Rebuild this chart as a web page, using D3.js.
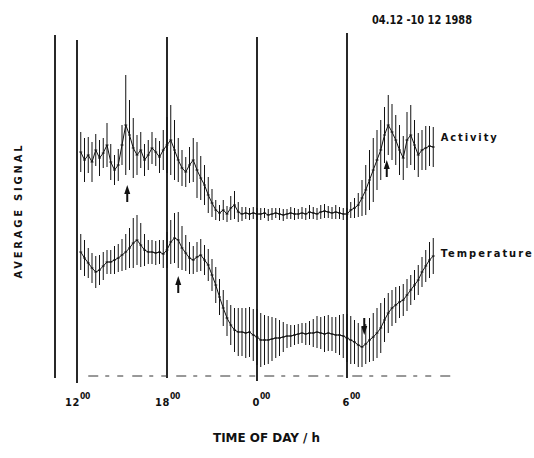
<!DOCTYPE html>
<html>
<head>
<meta charset="utf-8">
<script src="https://cdn.jsdelivr.net/npm/d3@7"></script>
<style>
  html, body { margin: 0; padding: 0; background: #fff; }
  svg { display: block; }
  text { font-family: "DejaVu Sans Condensed", "DejaVu Sans", sans-serif; font-weight: bold; fill: #111; }
</style>
</head>
<body>
<svg id="chart" width="534" height="458"></svg>
<script>
// Sampling grid: hours after 12:00, one average every 15 minutes
const times = d3.range(1, 96).map(i => i / 4);

// Average activity signal (arbitrary units) and its error half-width
const activityMean = [
  22.4, 21.6, 22.1, 21.4, 22.6, 21.8, 22.3, 23.1, 21.4, 20.6,
  21.1, 23.1, 25.1, 24.1, 22.8, 22.1, 22.6, 21.6, 22.1, 22.8,
  22.4, 21.9, 22.6, 23.1, 23.6, 22.6, 21.6, 20.8, 20.4, 21.1,
  21.6, 20.6, 19.8, 19.1, 18.1, 17.3, 16.6, 16.3, 16.6, 16.2,
  16.8, 17.1, 16.4, 16.2, 16.3, 16.2, 16.3, 16.2,
  16.2, 16.3, 16.1, 16.2, 16.3, 16.2, 16.1, 16.2, 16.3, 16.2,
  16.2, 16.3, 16.2, 16.4, 16.3, 16.2, 16.4, 16.5, 16.4, 16.3,
  16.4, 16.3, 16.2,
  16.2, 16.6, 16.8, 17.1, 17.8, 18.6, 19.6, 20.6, 21.6,
  22.6, 24.1, 25.1, 24.4, 23.6, 22.6, 21.8, 23.6, 24.1, 23.1,
  22.1, 22.6, 22.8, 23.0, 22.9
];
const activityErr = [
  2.0, 2.2, 1.8, 2.0, 1.6, 1.8, 1.5, 2.2, 1.8, 1.5,
  1.6, 2.0, 5.0, 3.5, 3.0, 2.0, 1.8, 1.6, 1.5, 1.6,
  1.4, 1.6, 2.0, 2.8, 3.5, 3.0, 2.2, 1.8, 1.5, 1.8,
  2.2, 2.8, 2.2, 2.0, 1.8, 1.4, 1.0, 0.8, 1.0, 0.8,
  1.2, 1.4, 1.0, 0.7, 0.6, 0.6, 0.6, 0.6,
  0.6, 0.5, 0.6, 0.6, 0.5, 0.6, 0.6, 0.5, 0.6, 0.6,
  0.5, 0.6, 0.6, 0.7, 0.6, 0.6, 0.7, 0.7, 0.6, 0.6,
  0.7, 0.6, 0.6,
  0.6, 0.8, 1.0, 1.2, 1.8, 2.5, 3.0, 3.2, 3.0,
  3.0, 2.8, 3.0, 2.8, 2.5, 2.5, 2.2, 2.8, 3.0, 2.5,
  2.2, 2.0, 2.2, 2.0, 2.0
];

// Average temperature signal (arbitrary units) and its error half-width
const tempMean = [
  12.4, 11.8, 11.3, 10.8, 10.4, 10.6, 11.0, 11.4, 11.4, 11.6,
  11.8, 12.1, 12.4, 12.8, 13.3, 13.6, 13.1, 12.6, 12.4, 12.4,
  12.3, 12.4, 12.2, 12.6, 13.4, 13.8, 13.6, 12.8, 12.3, 11.8,
  11.6, 11.9, 12.1, 11.6, 11.1, 10.1, 9.1, 7.9, 6.8, 5.8,
  5.1, 4.6, 4.4, 4.4, 4.3, 4.4, 4.1, 3.9, 3.6, 3.6,
  3.6, 3.7, 3.8, 3.8, 3.9, 4.0, 4.0, 4.1, 4.2, 4.3,
  4.2, 4.3, 4.3, 4.4, 4.3, 4.2, 4.3, 4.2, 4.1, 4.1,
  4.0, 3.8, 3.6, 3.4, 3.1, 2.9, 3.2, 3.6, 3.9, 4.3,
  4.8, 5.6, 6.3, 6.8, 7.1, 7.4, 7.6, 8.1, 8.6, 9.1,
  9.6, 10.4, 11.0, 11.6, 12.0
];
const tempErr = [
  1.8, 1.8, 1.5, 1.5, 1.6, 1.5, 1.4, 1.2, 1.2, 1.4,
  1.4, 1.6, 1.8, 2.0, 2.5, 2.5, 2.2, 1.6, 1.2, 1.2,
  1.2, 1.2, 1.4, 1.8, 2.2, 2.5, 2.8, 2.2, 1.8, 1.6,
  1.4, 1.5, 1.6, 1.5, 1.6, 1.6, 1.8, 1.8, 1.8, 1.8,
  2.0, 2.2, 2.4, 2.4, 2.5, 2.5, 2.6, 2.8, 2.7, 2.5,
  2.4, 2.2, 2.0, 1.8, 1.5, 1.2, 1.1, 1.0, 1.0, 1.0,
  1.1, 1.2, 1.4, 1.6, 1.6, 1.8, 1.8, 1.7, 1.8, 2.0,
  2.2, 2.4, 2.4, 2.2, 2.2, 2.0, 2.0, 2.2, 2.4, 2.5,
  2.5, 2.2, 2.0, 1.8, 1.8, 1.6, 1.6, 1.6, 1.5, 1.5,
  1.5, 1.5, 1.6, 1.8, 1.8
];

// Hour marks (hours after 12:00) and their labels
const hourTicks = [0, 6, 12, 18];
const hourLabels = ["12", "18", "0", "6"];

// Event arrows: time, signal level of the tip, direction
const arrowMarks = [
  { t: 3.35, v: 19.1, dir: "up" },
  { t: 20.65, v: 21.6, dir: "up" },
  { t: 6.75, v: 10.0, dir: "up" },
  { t: 19.15, v: 4.1, dir: "down" }
];

const seriesNames = ["Activity", "Temperature"];
const seriesLabelLevel = [23.5, 11.9];
const dateRange = "04.12 -10 12 1988";

// Scales
const x = d3.scaleLinear().domain([0, 18]).range([77, 347]);
const y = d3.scaleLinear().domain([0, 34]).range([376, 36]);

const svg = d3.select("#chart");
svg.append("rect").attr("width", 534).attr("height", 458).attr("fill", "#fff");

// Left frame line
svg.append("line")
  .attr("x1", 55).attr("x2", 55)
  .attr("y1", 35).attr("y2", 378)
  .attr("stroke", "#111").attr("stroke-width", 1.8);

// Vertical hour lines
const hourTop = [33.6, 33.9, 33.9, 34.3];
const hourBottom = [-0.7, -0.2, -0.5, -0.2];
svg.append("g").selectAll("line").data(hourTicks).join("line")
  .attr("x1", d => x(d)).attr("x2", d => x(d))
  .attr("y1", (d, i) => y(hourTop[i]))
  .attr("y2", (d, i) => y(hourBottom[i]))
  .attr("stroke", "#111").attr("stroke-width", 1.8);

// Dashed base line
svg.append("line")
  .attr("x1", x(0.75)).attr("x2", x(25.2))
  .attr("y1", y(0)).attr("y2", y(0))
  .attr("stroke", "#333").attr("stroke-width", 1)
  .attr("stroke-dasharray", "10 7 4 8 6 9");

// Hour labels with superscript minutes
const tickG = svg.append("g");
hourTicks.forEach((h, i) => {
  tickG.append("text")
    .attr("x", x(h) + 3)
    .attr("y", y(0) + 30)
    .attr("text-anchor", "end")
    .attr("font-size", 11)
    .attr("letter-spacing", 0.6)
    .text(hourLabels[i]);
  tickG.append("text")
    .attr("x", x(h) + 3)
    .attr("y", y(0) + 23)
    .attr("font-size", 8.5)
    .attr("letter-spacing", -0.3)
    .text("00");
});

// Error bars, mean marks and connecting line for each series
function drawSeries(mean, err) {
  const g = svg.append("g");
  const pts = times.map((t, i) => ({ t, m: mean[i], e: err[i] }));
  g.append("path")
    .datum(pts)
    .attr("fill", "none")
    .attr("stroke", "#111")
    .attr("stroke-width", 1)
    .attr("d", d3.line().x(d => x(d.t)).y(d => y(d.m)));
  g.selectAll("line.bar").data(pts).join("line")
    .attr("class", "bar")
    .attr("x1", d => x(d.t)).attr("x2", d => x(d.t))
    .attr("y1", d => y(d.m + d.e)).attr("y2", d => y(d.m - d.e))
    .attr("stroke", "#111").attr("stroke-width", 1);
  g.selectAll("line.tick").data(pts).join("line")
    .attr("class", "tick")
    .attr("x1", d => x(d.t) - 1.5).attr("x2", d => x(d.t) + 1.5)
    .attr("y1", d => y(d.m)).attr("y2", d => y(d.m))
    .attr("stroke", "#111").attr("stroke-width", 1);
}
drawSeries(activityMean, activityErr);
drawSeries(tempMean, tempErr);

// Arrows
const arrowG = svg.append("g");
arrowMarks.forEach(a => {
  const tx = x(a.t), ty = y(a.v);
  const s = a.dir === "up" ? 1 : -1;   // shaft extends below the tip for "up"
  arrowG.append("line")
    .attr("x1", tx).attr("x2", tx)
    .attr("y1", ty + s * 5).attr("y2", ty + s * 17)
    .attr("stroke", "#111").attr("stroke-width", 2);
  arrowG.append("path")
    .attr("d", `M${tx},${ty} L${tx - 3},${ty + s * 9} L${tx + 3},${ty + s * 9} Z`)
    .attr("fill", "#111");
});

// Series names
seriesNames.forEach((n, i) => {
  svg.append("text")
    .attr("x", x(24.25))
    .attr("y", y(seriesLabelLevel[i]))
    .attr("font-size", 11)
    .attr("textLength", i === 0 ? 56 : 91)
    .attr("lengthAdjust", "spacing")
    .text(n);
});

// Date range
svg.append("text")
  .attr("x", 372).attr("y", 24)
  .attr("font-size", 12)
  .attr("textLength", 100)
  .attr("lengthAdjust", "spacingAndGlyphs")
  .text(dateRange);

// Axis titles
svg.append("text")
  .attr("transform", "translate(22,212) rotate(-90)")
  .attr("text-anchor", "middle")
  .attr("font-size", 11)
  .attr("textLength", 133)
  .attr("lengthAdjust", "spacing")
  .text("AVERAGE  SIGNAL");

svg.append("text")
  .attr("x", 213).attr("y", 442)
  .attr("font-size", 13)
  .attr("textLength", 107)
  .attr("lengthAdjust", "spacingAndGlyphs")
  .text("TIME OF DAY / h");
</script>
</body>
</html>
